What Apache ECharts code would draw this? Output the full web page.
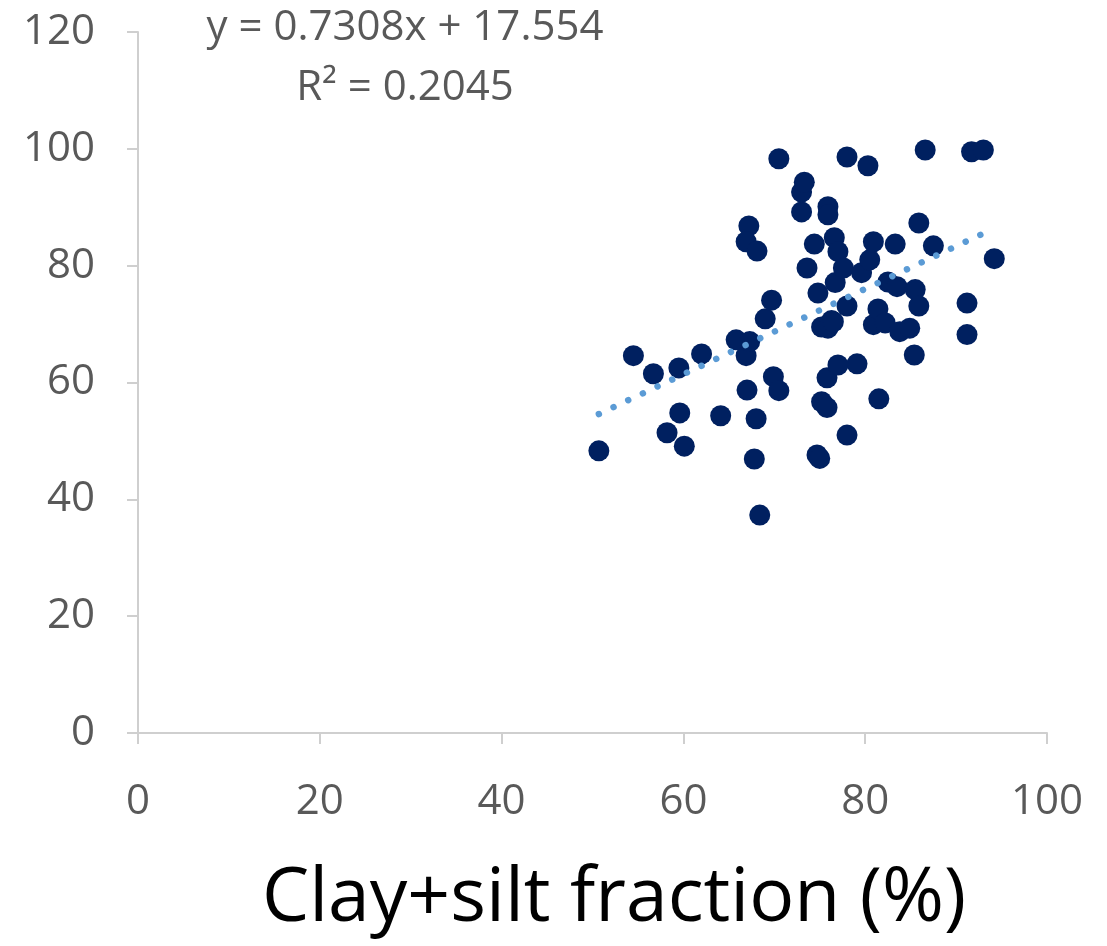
<!DOCTYPE html>
<html>
<head>
<meta charset="utf-8">
<script src="https://cdn.jsdelivr.net/npm/echarts@6/dist/echarts.min.js"></script>
<style>
  html, body { margin: 0; padding: 0; background: #ffffff; }
  #chart { width: 1107px; height: 946px; }
</style>
</head>
<body>
<div id="chart"></div>
<script>
// Clay+silt fraction (%) of each sample
const claySilt = [
  50.7, 54.5, 56.7, 58.2, 59.5, 59.6, 60.1, 62.0, 64.1, 65.8,
  66.9, 67.3, 67.0, 67.2, 66.9, 68.1, 67.8, 68.0, 68.4, 69.0,
  69.7, 69.9, 70.5, 70.5, 73.0, 73.0, 73.3, 73.6, 74.4, 74.8,
  74.7, 75.0, 75.2, 76.3, 75.2, 75.8, 75.8, 75.9, 75.9, 76.6,
  76.7, 77.0, 77.0, 77.6, 78.0, 78.0, 78.0, 79.1, 79.6, 80.3,
  80.5, 80.9, 80.9, 81.4, 81.5, 82.2, 82.5, 83.3, 83.5, 83.8,
  84.9, 85.4, 85.5, 85.9, 85.9, 86.6, 87.5, 91.2, 91.2, 91.7,
  93.0, 94.2, 75.9, 76.5
];
// Paired response values for the same samples
const yValues = [
  48.3, 64.6, 61.5, 51.4, 62.5, 54.8, 49.1, 64.9, 54.3, 67.3,
  64.6, 67.0, 58.7, 86.8, 84.1, 82.5, 46.9, 53.8, 37.3, 70.9,
  74.1, 61.0, 58.6, 98.3, 89.2, 92.6, 94.3, 79.6, 83.7, 75.3,
  47.6, 47.0, 69.5, 70.6, 56.7, 55.7, 60.8, 90.1, 88.7, 84.8,
  77.1, 82.4, 63.0, 79.6, 73.1, 98.6, 51.0, 63.2, 78.8, 97.1,
  81.0, 84.1, 69.9, 72.6, 57.2, 70.2, 77.2, 83.7, 76.4, 68.7,
  69.3, 64.7, 75.9, 73.1, 87.3, 99.8, 83.4, 73.6, 68.2, 99.5,
  99.8, 81.2, 69.3, 70.4
];
// Axis ticks
const xTicks = [0, 20, 40, 60, 80, 100];
const yTicks = [0, 20, 40, 60, 80, 100, 120];
// Linear trendline fitted to the samples
const trendSlope = 0.7308;
const trendIntercept = 17.554;
const trendR2 = 0.2045;

const points = claySilt.map((x, i) => [x, yValues[i]]);
const xMin = Math.min(...claySilt);
const xMax = Math.max(...claySilt);
const trendLine = [
  [xMin, trendSlope * xMin + trendIntercept],
  [xMax, trendSlope * xMax + trendIntercept]
];

const FONT = '"Open Sans", "Noto Sans", sans-serif';
const labelColor = '#595959';
const axisColor = '#cfcfcf';

const chart = echarts.init(document.getElementById('chart'), null, { renderer: 'canvas' });
chart.setOption({
  animation: false,
  backgroundColor: '#ffffff',
  grid: { left: 138, right: 60, top: 32, bottom: 213, containLabel: false },
  xAxis: {
    type: 'value',
    min: xTicks[0],
    max: xTicks[xTicks.length - 1],
    interval: xTicks[1] - xTicks[0],
    axisLine: { show: true, onZero: true, lineStyle: { color: axisColor, width: 2 } },
    axisTick: { show: true, length: 11, lineStyle: { color: axisColor, width: 2 } },
    splitLine: { show: false },
    axisLabel: { fontFamily: FONT, fontSize: 42, color: labelColor, margin: 48 }
  },
  yAxis: {
    type: 'value',
    min: yTicks[0],
    max: yTicks[yTicks.length - 1],
    interval: yTicks[1] - yTicks[0],
    axisLine: { show: true, lineStyle: { color: axisColor, width: 2 } },
    axisTick: { show: true, length: 11, lineStyle: { color: axisColor, width: 2 } },
    splitLine: { show: false },
    axisLabel: { fontFamily: FONT, fontSize: 42, color: labelColor, margin: 43 }
  },
  series: [
    {
      name: 'samples',
      type: 'scatter',
      data: points,
      symbol: 'circle',
      symbolSize: 21,
      itemStyle: { color: '#002060', opacity: 1 },
      z: 2
    },
    {
      name: 'trend',
      type: 'line',
      data: trendLine,
      symbol: 'none',
      silent: true,
      lineStyle: { color: '#5B9BD5', width: 6.5, type: [0.01, 16.2], cap: 'round' },
      z: 3
    }
  ],
  graphic: [
    {
      type: 'text',
      x: 405, y: 28,
      style: {
        text: 'y = ' + trendSlope.toFixed(4) + 'x + ' + trendIntercept.toFixed(3),
        fontFamily: FONT, fontSize: 42, fill: labelColor,
        align: 'center', verticalAlign: 'middle'
      }
    },
    {
      type: 'text',
      x: 405, y: 88,
      style: {
        text: 'R\u00B2 = ' + trendR2.toFixed(4),
        fontFamily: FONT, fontSize: 42, fill: labelColor,
        align: 'center', verticalAlign: 'middle'
      }
    },
    {
      type: 'text',
      x: 614, y: 900,
      style: {
        text: 'Clay+silt fraction (%)',
        fontFamily: FONT, fontSize: 75, fill: '#000000',
        align: 'center', verticalAlign: 'middle'
      }
    }
  ]
});
</script>
</body>
</html>
